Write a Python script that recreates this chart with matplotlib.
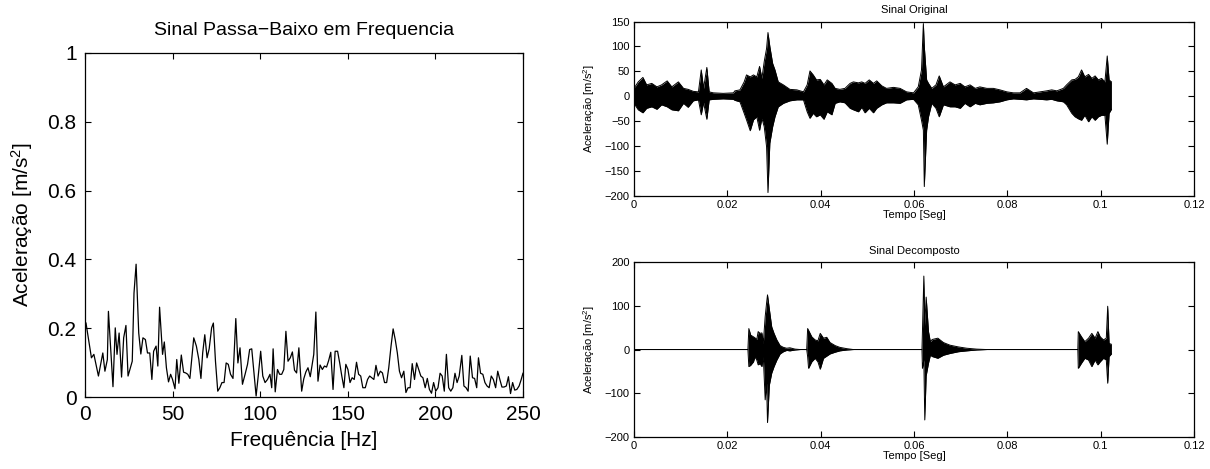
import matplotlib
matplotlib.use("Agg")
import matplotlib.pyplot as plt

plt.rcParams["font.family"] = ["Liberation Sans", "DejaVu Sans"]
plt.rcParams["mathtext.default"] = "regular"

# spectrum (left panel)
freq_hz = [
    0.6, 3.7, 5.1, 7.7, 10.2, 11.4, 12.8, 13.4, 16.0, 17.3,
    18.3, 19.5, 20.9, 22.1, 23.4, 24.6, 27.0, 28.0, 29.2, 30.7,
    31.9, 33.1, 34.5, 35.7, 37.0, 38.2, 39.2, 40.6, 41.6, 42.6,
    44.3, 45.3, 46.5, 47.7, 48.9, 50.0, 51.4, 52.4, 53.6, 55.0,
    56.3, 57.5, 58.7, 59.9, 62.1, 63.6, 65.0, 66.2, 67.2, 68.4,
    69.7, 70.9, 72.3, 73.3, 74.5, 75.8, 77.0, 78.2, 79.4, 80.6,
    81.8, 83.1, 84.5, 86.1, 87.3, 88.5, 89.9, 91.4, 92.8, 94.0,
    95.2, 96.5, 97.7, 98.9, 100.3, 101.5, 102.8, 104.2, 105.6, 106.6,
    107.4, 108.6, 109.9, 111.1, 112.3, 113.5, 114.7, 115.9, 117.2, 118.4,
    119.6, 120.8, 122.1, 123.7, 124.9, 126.1, 127.3, 128.6, 129.8, 130.6,
    131.8, 133.0, 134.2, 135.5, 136.7, 137.9, 139.1, 140.3, 141.6, 142.8,
    144.2, 145.4, 146.6, 147.8, 148.9, 150.1, 151.3, 152.5, 153.7, 155.0,
    156.2, 157.4, 158.6, 160.0, 161.3, 162.5, 163.7, 164.9, 166.1, 167.3,
    168.6, 169.8, 171.0, 172.2, 173.4, 174.7, 175.9, 177.1, 178.3, 179.5,
    180.7, 182.0, 183.2, 184.4, 185.6, 186.8, 188.1, 189.3, 190.5, 191.7,
    192.9, 194.2, 195.4, 196.6, 197.8, 199.0, 200.2, 201.5, 202.7, 203.9,
    205.1, 206.3, 207.6, 208.8, 210.0, 211.2, 212.4, 213.6, 215.1, 216.3,
    217.5, 218.7, 219.9, 221.2, 222.4, 223.6, 224.6, 225.8, 227.1, 228.3,
    229.5, 230.7, 231.9, 233.1, 234.4, 235.6, 236.8, 238.0, 239.2, 240.5,
    241.7, 242.9, 244.1, 245.3, 246.5, 247.8, 249.0, 250.0,
]
spec_amp = [
    0.215, 0.114, 0.124, 0.061, 0.128, 0.075, 0.109, 0.249, 0.030, 0.201,
    0.124, 0.186, 0.058, 0.172, 0.208, 0.061, 0.104, 0.302, 0.386, 0.186,
    0.125, 0.172, 0.167, 0.128, 0.128, 0.051, 0.133, 0.148, 0.090, 0.261,
    0.124, 0.160, 0.085, 0.044, 0.066, 0.051, 0.024, 0.109, 0.040, 0.122,
    0.072, 0.070, 0.066, 0.054, 0.172, 0.148, 0.109, 0.054, 0.128, 0.181,
    0.114, 0.140, 0.201, 0.215, 0.104, 0.017, 0.027, 0.042, 0.042, 0.099,
    0.095, 0.066, 0.054, 0.228, 0.099, 0.143, 0.037, 0.066, 0.095, 0.138,
    0.140, 0.070, 0.003, 0.061, 0.133, 0.061, 0.042, 0.051, 0.066, 0.027,
    0.140, 0.015, 0.080, 0.066, 0.066, 0.080, 0.191, 0.104, 0.114, 0.131,
    0.078, 0.070, 0.143, 0.017, 0.053, 0.073, 0.085, 0.059, 0.099, 0.124,
    0.247, 0.046, 0.093, 0.080, 0.090, 0.087, 0.106, 0.130, 0.022, 0.133,
    0.133, 0.099, 0.061, 0.027, 0.095, 0.080, 0.042, 0.056, 0.051, 0.101,
    0.066, 0.061, 0.027, 0.027, 0.051, 0.061, 0.056, 0.051, 0.092, 0.061,
    0.075, 0.070, 0.042, 0.042, 0.085, 0.148, 0.198, 0.167, 0.128, 0.075,
    0.056, 0.075, 0.013, 0.027, 0.027, 0.097, 0.051, 0.099, 0.080, 0.061,
    0.056, 0.027, 0.054, 0.022, 0.011, 0.042, 0.017, 0.027, 0.069, 0.061,
    0.017, 0.124, 0.027, 0.017, 0.027, 0.069, 0.042, 0.061, 0.121, 0.032,
    0.027, 0.017, 0.119, 0.056, 0.054, 0.027, 0.114, 0.069, 0.066, 0.042,
    0.032, 0.027, 0.061, 0.051, 0.027, 0.075, 0.051, 0.029, 0.029, 0.032,
    0.059, 0.010, 0.042, 0.020, 0.022, 0.032, 0.051, 0.069,
]

# original signal envelope (top right)
t_orig = [
    0.0, 0.0002, 0.0009, 0.0019, 0.0027, 0.0038, 0.0049, 0.0059, 0.0071, 0.0081,
    0.0095, 0.0106, 0.0116, 0.0127, 0.0138, 0.0144, 0.0149, 0.0156, 0.0161, 0.0170,
    0.0191, 0.0213, 0.0216, 0.0227, 0.0236, 0.0241, 0.0249, 0.0256, 0.0263, 0.0269,
    0.0274, 0.0279, 0.0284, 0.0287, 0.0291, 0.0297, 0.0302, 0.0309, 0.0320, 0.0334,
    0.0349, 0.0363, 0.0371, 0.0377, 0.0384, 0.0391, 0.0399, 0.0407, 0.0414, 0.0424,
    0.0431, 0.0441, 0.0452, 0.0463, 0.0470, 0.0481, 0.0488, 0.0495, 0.0504, 0.0513,
    0.0520, 0.0531, 0.0541, 0.0556, 0.0570, 0.0584, 0.0599, 0.0609, 0.0616, 0.0620,
    0.0622, 0.0627, 0.0631, 0.0638, 0.0647, 0.0654, 0.0663, 0.0677, 0.0688, 0.0699,
    0.0709, 0.0720, 0.0731, 0.0741, 0.0756, 0.0770, 0.0784, 0.0799, 0.0813, 0.0827,
    0.0841, 0.0856, 0.0870, 0.0884, 0.0895, 0.0906, 0.0920, 0.0927, 0.0938, 0.0945,
    0.0952, 0.0959, 0.0966, 0.0974, 0.0981, 0.0988, 0.0995, 0.1002, 0.1009, 0.1014,
    0.1018, 0.1023,
]
up_orig = [
    20, 19, 29, 38, 23, 26, 19, 23, 31, 19,
    29, 16, 14, 10, 9, 53, 16, 58, 9, 7,
    6, 7, 11, 13, 29, 43, 39, 43, 39, 60,
    36, 70, 96, 128, 100, 66, 53, 29, 23, 14,
    13, 9, 23, 51, 43, 33, 34, 23, 33, 26,
    16, 14, 16, 26, 29, 27, 29, 26, 33, 26,
    31, 21, 16, 18, 16, 9, 7, 19, 53, 146,
    100, 33, 26, 16, 23, 41, 19, 29, 23, 26,
    19, 23, 16, 19, 16, 16, 13, 9, 7, 7,
    16, 7, 9, 11, 13, 11, 16, 23, 33, 34,
    39, 53, 39, 44, 36, 41, 33, 36, 29, 81,
    33, 29,
]
lo_orig = [
    -15, -17, -27, -33, -24, -21, -26, -17, -21, -27,
    -29, -14, -22, -9, -7, -37, -12, -46, -7, -6,
    -5, -6, -8, -11, -34, -47, -69, -47, -41, -68,
    -44, -61, -101, -193, -94, -61, -41, -21, -14, -9,
    -7, -7, -31, -44, -34, -41, -37, -46, -31, -37,
    -14, -11, -13, -24, -27, -31, -22, -33, -24, -33,
    -24, -17, -13, -13, -14, -7, -6, -17, -48, -68,
    -181, -68, -41, -14, -24, -41, -17, -21, -21, -24,
    -14, -21, -14, -17, -14, -13, -11, -7, -5, -6,
    -7, -5, -6, -7, -6, -9, -11, -17, -34, -41,
    -45, -48, -38, -51, -41, -48, -41, -38, -38, -96,
    -34, -26,
]

# decomposed signal envelope (bottom right)
t_dec = [
    0.0, 0.0244, 0.0246, 0.0250, 0.0256, 0.0259, 0.0263, 0.0266, 0.0270, 0.0274,
    0.0277, 0.0281, 0.0284, 0.0286, 0.0290, 0.0295, 0.0300, 0.0306, 0.0313, 0.0320,
    0.0327, 0.0334, 0.0345, 0.0356, 0.0370, 0.0372, 0.0374, 0.0381, 0.0388, 0.0394,
    0.0399, 0.0406, 0.0413, 0.0420, 0.0431, 0.0441, 0.0456, 0.0470, 0.0617, 0.0618,
    0.0621, 0.0623, 0.0626, 0.0631, 0.0635, 0.0639, 0.0651, 0.0663, 0.0677, 0.0695,
    0.0713, 0.0734, 0.0756, 0.0951, 0.0952, 0.0959, 0.0966, 0.0974, 0.0981, 0.0988,
    0.0994, 0.0999, 0.1006, 0.1012, 0.1015, 0.1018, 0.1023,
]
up_dec = [
    0, 0, 48, 33, 29, 27, 23, 41, 37, 38,
    14, 75, 106, 125, 92, 52, 37, 22, 9, 5,
    3, 4, 1, 0, 0, 48, 44, 29, 22, 20,
    37, 26, 28, 16, 9, 5, 2, 0, 0, 41,
    168, 55, 120, 41, 18, 23, 26, 16, 10, 6,
    3, 1, 0, 0, 41, 29, 18, 26, 37, 26,
    41, 29, 22, 26, 99, 14, 12,
]
lo_dec = [
    0, 0, -39, -36, -28, -17, -24, -35, -32, -39,
    -16, -115, -77, -167, -81, -54, -39, -24, -10, -5,
    -2, -3, -1, 0, 0, -16, -43, -28, -20, -28,
    -45, -20, -15, -10, -6, -3, -1, 0, 0, -43,
    -23, -161, -60, -31, -13, -16, -20, -13, -9, -5,
    -3, -1, 0, 0, -43, -31, -20, -24, -39, -24,
    -35, -28, -20, -24, -77, -16, -10,
]


def style_axes(ax, size, pad):
    ax.tick_params(direction="in", top=True, right=True, labelsize=size,
                   length=4, width=0.8, pad=pad)
    for sp in ax.spines.values():
        sp.set_linewidth(0.9)


def draw_signal(ax, t, up, lo, title, ylim, yticks):
    ax.fill_between(t, lo, up, color="black", linewidth=0)
    ax.plot(t, up, color="black", linewidth=0.7)
    ax.plot(t, lo, color="black", linewidth=0.7)
    ax.set_xlim(0, 0.12)
    ax.set_ylim(*ylim)
    ax.set_xticks([0, 0.02, 0.04, 0.06, 0.08, 0.1, 0.12])
    ax.set_xticklabels(["0", "0.02", "0.04", "0.06", "0.08", "0.1", "0.12"])
    ax.set_yticks(yticks)
    ax.set_title(title, fontsize=8, pad=6)
    ax.set_xlabel("Tempo [Seg]", fontsize=8, labelpad=0)
    ax.set_ylabel("Aceleração [m/s$^2$]", fontsize=8, labelpad=6)
    style_axes(ax, 8, 3)


fig = plt.figure(figsize=(12.1, 4.69), dpi=100)

ax_spec = fig.add_axes([0.0702, 0.1535, 0.362, 0.7335])
ax_spec.plot(freq_hz, spec_amp, color="black", linewidth=0.9)
ax_spec.set_xlim(0, 250)
ax_spec.set_ylim(0, 1)
ax_spec.set_xticks([0, 50, 100, 150, 200, 250])
ax_spec.set_yticks([0, 0.2, 0.4, 0.6, 0.8, 1])
ax_spec.set_yticklabels(["0", "0.2", "0.4", "0.6", "0.8", "1"])
ax_spec.set_title("Sinal Passa\u2212Baixo em Frequencia", fontsize=14, pad=13)
ax_spec.set_xlabel("Frequência [Hz]", fontsize=15, labelpad=5)
ax_spec.set_ylabel("Aceleração [m/s$^2$]", fontsize=15, labelpad=9)
style_axes(ax_spec, 15, 6)

ax_orig = fig.add_axes([0.524, 0.582, 0.4628, 0.372])
draw_signal(ax_orig, t_orig, up_orig, lo_orig, "Sinal Original",
            (-200, 150), [-200, -150, -100, -50, 0, 50, 100, 150])

ax_dec = fig.add_axes([0.524, 0.0682, 0.4628, 0.373])
draw_signal(ax_dec, t_dec, up_dec, lo_dec, "Sinal Decomposto",
            (-200, 200), [-200, -100, 0, 100, 200])

fig.savefig("out.png", dpi=100)
